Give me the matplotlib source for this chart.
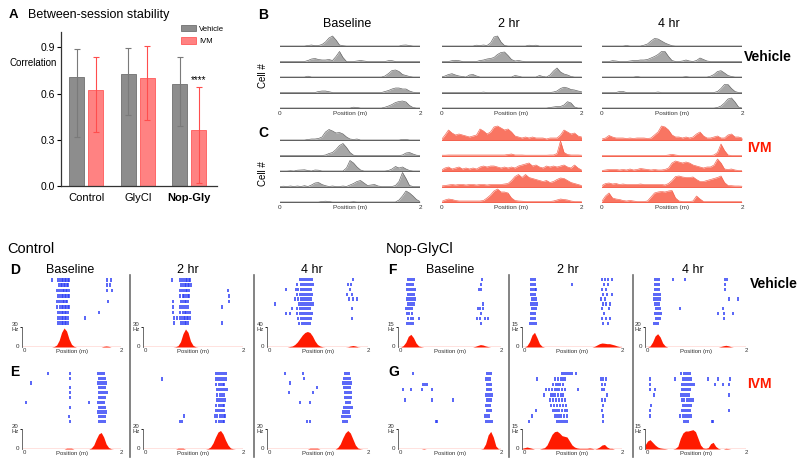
import numpy as np
import matplotlib
matplotlib.use('Agg')
import matplotlib.pyplot as plt
from matplotlib.lines import Line2D

plt.rcParams['font.family'] = ['Liberation Sans', 'DejaVu Sans']

W, H = 800, 466

# %% panel A: between-session correlation (bar = median, whiskers = range)
groups = ['Control', 'GlyCl', 'Nop-Gly']
corr_vehicle = [0.705, 0.725, 0.665]
corr_vehicle_lo = [0.32, 0.46, 0.39]
corr_vehicle_hi = [0.89, 0.895, 0.835]
corr_ivm = [0.625, 0.70, 0.365]
corr_ivm_lo = [0.35, 0.43, 0.02]
corr_ivm_hi = [0.84, 0.91, 0.645]

# position bins along the track (m), 0.05 m steps
positions = np.linspace(0, 2, 41)

# %% panel B: vehicle, 5 cells (height in px above each baseline)
b_base = [
    [0, 0, 0, 0, 0, 0, 0, 0, 0.5, 1, 0.3, 0.5, 1.5, 4, 8, 10, 6, 1, 0.3, 0, 0, 0, 0, 0, 0, 0, 0, 0, 0, 0, 0, 0, 0, 0, 0, 0.8, 1, 0.5, 0, 0, 0],
    [0, 0, 0, 0, 0, 0, 0, 0, 1, 2.5, 3, 2, 1.5, 1.5, 2, 1, 5, 10, 4, 0, 0, 0, 0.5, 1, 0.5, 0, 0, 0, 0, 0, 0, 0.8, 0.8, 0, 0, 0, 0, 0, 0, 0, 0],
    [0, 0, 0, 0, 0, 0, 0, 0, 0.8, 0, 0, 0, 0, 0, 0, 0, 0, 0, 0, 0, 0, 0, 0, 0, 0, 0, 0, 0, 0, 0, 1, 3.5, 6.5, 7, 5.5, 2.5, 1.5, 0.5, 0, 0, 0],
    [0, 0, 0, 0, 0, 0, 0, 0, 0, 0, 0, 1, 1.5, 1.5, 0.8, 0, 0, 0, 0, 0, 0, 0, 0, 0, 0, 0, 0, 0, 0, 0, 1, 2, 3.5, 4.5, 4.5, 3.5, 3.5, 1.5, 0.3, 0, 0],
    [0, 0, 0, 0, 0, 0, 0, 0, 0, 0, 0, 0, 0, 0, 0, 0, 0, 0, 0, 0, 0, 0.8, 0.5, 0, 0, 0, 0, 0, 0, 0, 0.8, 2, 3.5, 5.5, 6.5, 7, 6, 2.5, 0.5, 0, 0],
]
b_2hr = [
    [0, 0, 0, 0, 0, 0, 0, 0, 0, 0, 0.8, 0.5, 1, 0.5, 3, 9, 10, 4, 0.5, 0, 0, 0, 0, 0, 0, 0.8, 0.5, 0.8, 0, 0, 0, 0, 0, 0, 0, 0, 0, 0, 0, 0, 0],
    [0, 0, 0, 0.8, 1.2, 0.8, 0, 0, 0, 0, 0, 1, 1.5, 2.5, 3, 4, 7, 9, 9.5, 6, 2, 0.5, 1, 0.3, 0, 0, 0, 0, 0, 0, 0, 0, 0, 0, 0, 0, 0, 0, 0, 0, 0],
    [0, 1, 2.5, 3.3, 2, 1, 0.5, 0, 2, 2.5, 1, 0, 0, 0, 0, 0, 0, 0, 0, 0, 0, 1.5, 0.8, 0, 0, 0, 0, 0, 1.5, 0.5, 0, 2, 6, 9, 5, 3, 2, 0.5, 0, 0, 0],
    [0, 0, 0, 0, 0, 0, 0, 0, 0, 0, 0, 0, 0.4, 0, 0, 0, 0, 0, 0, 0, 0, 0, 0, 0, 0, 0, 0, 0, 0, 0, 0, 0, 0.5, 1.5, 4, 5.3, 4.5, 3, 2.5, 1.5, 0.8],
    [0, 0, 0, 0, 0, 0, 0, 0, 0, 0, 0, 0, 0, 0, 0, 0, 0, 0, 0, 0, 0, 0, 0, 0, 0, 0, 0, 0, 0, 0, 0, 0.5, 1, 1.5, 1.5, 3, 6.3, 5, 1, 0, 0],
]
b_4hr = [
    [0, 0, 0, 0, 0, 0, 0, 0.5, 0, 0, 0, 0, 0.8, 2, 5, 7.5, 7, 5, 3, 1.5, 0.3, 0, 0, 0, 0, 0, 0, 0, 0, 0, 0, 0, 0, 0, 0, 0, 0, 0, 0, 0, 0],
    [0, 0, 0, 0.8, 0.5, 0, 0, 0, 0.5, 1, 1, 1.5, 1.5, 2, 3.5, 5, 7, 10, 10, 5, 1, 0, 0, 0.5, 1.5, 0.5, 0, 1, 3.5, 2, 0.5, 0, 0, 0, 0, 0, 0, 0, 0, 0, 0],
    [0, 0, 0, 0, 0, 0, 0, 0, 0, 0, 0.5, 0, 0, 0, 0, 0, 0, 0, 0, 0, 0, 0, 0, 0, 0.4, 0, 0, 0, 0, 0, 0, 0.8, 2.5, 5.5, 6.3, 4, 1.5, 0.5, 0, 0, 0],
    [0, 0, 0, 0, 0, 1, 1, 0, 0, 0, 0, 0, 0, 0, 0, 0, 0.5, 0, 0, 0, 0, 0, 0, 0, 0, 0, 0, 0, 0, 0, 0, 0, 0, 1, 4, 8, 8, 4, 1, 0, 0],
    [0, 0, 0, 0, 0, 0, 0, 0, 0, 0, 0, 0, 0, 0, 0, 0, 0, 0, 0, 0, 0, 0, 0, 0, 0, 0, 0, 0, 0, 0, 0, 0, 0, 0.5, 2, 5, 9, 10, 6, 1, 0],
]

# %% panel C: IVM, 5 cells
c_base = [
    [0, 0, 0, 0, 0, 0, 0, 0, 0.5, 1, 1, 1.5, 3, 8, 10.5, 9, 7, 7.5, 6, 3, 1, 0.5, 1, 0, 0, 0, 0, 0, 0, 0, 0, 0, 0, 0, 0, 0.6, 0.6, 0, 0, 0, 0],
    [0, 0, 0, 0, 0, 0, 0, 0, 0, 0, 0, 0, 0, 0.5, 2, 3, 6, 10, 12, 8, 3, 0.3, 0, 0, 0, 0, 0, 0, 0, 0, 0, 0, 0, 0, 0, 0.5, 2.5, 3, 1.5, 0.3, 0],
    [0, 0, 0, 0.3, 0, 0.8, 1, 1.2, 0.5, 0, 1, 0.8, 0, 0, 0, 0, 0, 0, 0, 3, 10.5, 8, 4, 1, 0, 0, 0, 0, 0, 0, 0, 0.5, 2, 4.5, 3, 4, 2, 0.5, 0, 0, 0],
    [0, 0.3, 0, 0.5, 0, 0.5, 0, 0.8, 0, 1.5, 3.5, 4, 2, 0.8, 0, 0.5, 0, 0, 0.5, 0, 1.5, 3, 5, 6, 3.5, 1, 1.5, 2, 0.5, 0, 0, 0, 0, 1, 5, 14, 8, 1, 0, 0, 0],
    [0, 0, 0, 0, 0, 0, 0, 0, 0, 0, 0, 0, 0.5, 0.8, 0.5, 0, 0, 0, 0, 0, 0, 0.3, 0, 0, 0, 0, 0, 0, 0, 0, 0, 0, 0, 0, 2, 6, 11, 9, 6, 2.5, 0.5],
]
c_2hr = [
    [0.5, 5, 10, 7, 5, 6, 5, 4, 3, 4, 5, 11, 9, 6, 8, 13, 14, 12, 10, 11, 8, 4, 3, 2, 3, 2, 3, 2, 2, 2, 1, 2, 2, 2, 5, 10, 8, 6, 7, 4, 3],
    [0.3, 0.3, 0.5, 0.5, 0.5, 0.5, 0.5, 0.5, 0.5, 0.5, 0.5, 0.5, 0.5, 0.5, 0.5, 0.5, 0.5, 0.5, 0.5, 1, 1.5, 0.5, 0.5, 0.5, 0.3, 0.3, 0.3, 0.3, 0.3, 0.3, 0.3, 0.5, 0.5, 2, 14.5, 3, 1, 0.5, 0.5, 0.5, 0.3],
    [1, 3, 4, 2, 3, 4, 2, 3, 2, 3, 2, 4, 5, 4, 5, 5, 4, 3, 4, 3, 4, 3, 5, 6, 7, 8, 5, 6, 4, 3, 5, 4, 5, 4, 5, 6, 4, 3, 6, 3, 1],
    [0.5, 1, 1.5, 2, 1.5, 2, 2, 1.5, 2, 2, 1.5, 2, 2, 1.5, 2, 2, 2, 2, 2.5, 3, 6, 10, 12, 9, 12, 9, 8, 7, 6, 5, 6, 4, 5, 7, 8.5, 8, 6, 4, 3, 2, 1],
    [0.5, 2, 3, 2.5, 1.5, 1, 1, 1, 1, 1, 1, 1, 1.5, 4, 7, 11, 13, 10, 10, 9, 4, 1.5, 1, 0.8, 0.5, 0.5, 0.5, 0.5, 0.5, 0.5, 0.5, 0.5, 1, 2, 3, 2.5, 2, 1, 0.5, 0.3, 0.3],
]
c_4hr = [
    [1, 2, 4.5, 3, 2, 2, 2, 1.5, 2, 1.5, 2, 2, 2, 1.5, 2, 5, 8, 14, 13, 10, 5, 3, 3, 2, 3, 2, 3, 6, 8, 4, 2, 2, 3, 4, 2, 2, 5, 6, 3, 3, 2],
    [0, 0, 0, 0, 0, 0, 0, 0, 0, 0, 0, 0, 0, 0, 0, 0, 0, 0, 0, 0.5, 1.2, 0.5, 0, 0, 0, 0, 0, 0, 0, 0, 0, 0, 0.5, 3, 11.5, 5, 0.5, 0, 0, 0, 0],
    [0.5, 1, 1.5, 1.5, 1.5, 1, 1.5, 1, 2, 1, 1.5, 2.5, 2, 1.5, 1, 1.5, 1, 1, 1.5, 3, 8, 10, 9, 8, 9, 8, 6, 5, 4, 3, 4, 4, 6, 12, 8, 2, 1.5, 2, 1, 0.5, 0.3],
    [1, 3, 3.5, 2.5, 3, 2, 2.5, 2, 2, 2, 2, 2.5, 2, 2, 2, 2, 2, 2, 1.5, 3, 6, 10, 10.5, 9.5, 9, 9, 9.5, 7, 5, 5, 6, 7, 8, 9, 10.5, 4, 1, 0.8, 0.5, 0.5, 0.3],
    [1, 6, 9, 4, 3, 2.5, 1.5, 1, 1.5, 1, 0.5, 0.5, 0.5, 1, 5, 9, 10, 10.5, 10, 11, 11.5, 4, 1, 0.5, 0.5, 0.5, 1, 6, 3, 0.5, 0.5, 0.5, 0.5, 0.5, 0.5, 0.5, 0.5, 0.5, 0.5, 0.3, 0.3],
]

# %% panels D-G: firing rate maps (Hz) and y-axis top value
rate_ctrl_veh = [
    [0, 0, 0, 0, 0, 0, 0, 0, 0, 0, 0, 0, 0, 0.8, 3, 10, 22, 28.5, 24, 12, 4, 1, 0, 0, 0, 0, 0, 0, 0, 0, 0, 0, 0, 1, 1.5, 1, 0, 0, 0, 0, 0],
    [0, 0, 0, 0, 0, 0, 0, 0, 0, 0, 0, 0, 0, 0.5, 2, 8, 20, 27, 22, 9, 2.5, 0.5, 0, 0, 0, 0, 0, 0, 0, 0, 0, 0, 0, 0, 0, 0, 0, 0, 0, 0, 0],
    [0, 0, 0, 0, 0, 0, 0, 0, 0, 1, 2, 5, 10, 17, 24, 29, 31, 29, 22, 12, 5, 2, 0.5, 0, 0, 0, 0, 0, 0, 0, 0, 0, 0.5, 2, 3, 2, 0.5, 0, 0, 0, 0],
]
rate_ctrl_ivm = [
    [0, 0, 0, 0, 0, 0, 0, 0, 0, 0, 0, 0, 0, 0, 0, 0, 0, 0, 0.8, 0.8, 0.8, 0, 0, 0, 0, 0, 0, 0, 1, 4, 10, 15, 16.5, 12, 5, 1.5, 0.3, 0, 0, 0, 0],
    [0, 0, 0, 0, 0, 0, 0, 0, 0, 0, 0, 0, 0, 0, 0.8, 0.8, 0.8, 0, 0, 0, 0, 0, 0, 0, 0, 0, 0.5, 2, 6, 12, 17, 18.5, 15, 9, 4, 1, 0.3, 0, 0, 0, 0],
    [0, 0, 0, 0, 0, 0, 0, 0, 0, 0, 0, 0, 0, 0, 0, 0, 0, 0.8, 0.8, 0.8, 0.8, 0, 0, 0, 0, 0, 0, 0, 1.5, 5, 11, 16, 18.5, 16, 10, 4, 1, 0.3, 0, 0, 0],
]
rate_nop_veh = [
    [0, 0, 1, 3.5, 8, 9.5, 7, 3, 0.8, 0.3, 0, 0, 0, 0, 0, 0, 0, 0, 0, 0, 0, 0, 0, 0, 0, 0, 0, 0, 0, 0, 0.5, 1.2, 1.8, 1.5, 0.8, 0.3, 0, 0, 0, 0, 0],
    [0, 0, 1, 4, 9, 11, 7, 2.5, 0.5, 0, 0, 0, 0, 0, 0, 0, 0, 0, 0, 0, 0, 0, 0, 0, 0, 0, 0, 0, 0, 0.5, 1.5, 2.5, 3, 2.8, 2.5, 2.5, 2, 1.5, 0.8, 0.3, 0],
    [0, 0, 1, 5, 11, 13.3, 10, 4, 1, 0, 0, 0, 0, 0, 0, 0, 0, 0, 0, 0, 0, 0, 0, 0, 0, 0, 0, 0, 0, 0, 0.5, 1.2, 1.7, 1.2, 0.4, 0, 0, 0, 0, 0, 0],
]
rate_nop_ivm = [
    [0, 0, 0, 0, 0, 0, 0, 0, 0, 0, 0.5, 0, 0, 0, 0, 0, 0, 0, 0, 0, 0, 0, 0, 0, 0, 0, 0, 0, 0, 0, 0, 0, 0, 0.5, 5, 14, 17.6, 12, 3, 0.3, 0],
    [0.5, 1, 1.5, 1, 0.5, 0, 0, 0, 0.5, 1, 3, 7, 11, 13, 13.4, 12, 10, 9.5, 9, 6, 3, 1.5, 0.8, 0.5, 0.5, 0.5, 0.5, 0.8, 0.5, 0, 0.5, 1.5, 3, 3.4, 1.5, 0.5, 0.5, 0, 0, 0, 0],
    [3, 6, 7, 5, 3, 1.5, 0.8, 0.5, 0.3, 0, 0, 0, 0.5, 2, 8, 12, 13.5, 13.5, 14, 14.5, 13, 8, 3, 0.8, 0.5, 1, 4, 5, 2, 0.5, 0, 0, 0.5, 0.3, 0, 0, 0, 0, 0, 0, 0],
]
hz_ctrl_veh = [30, 30, 40]
hz_ctrl_ivm = [20, 20, 20]
hz_nop_veh = [15, 15, 20]
hz_nop_ivm = [20, 15, 15]

# %% spike positions (m) per lap
spikes_ctrl_veh = [
    [[0.61, 0.73, 0.77, 0.8, 0.83, 0.86, 0.89, 0.92, 0.95, 1.71, 1.8],
     [0.74, 0.78, 0.81, 0.84, 0.87, 0.9, 0.93, 1.71, 1.78],
     [0.71, 0.75, 0.79, 0.82, 0.85, 0.88, 0.91, 0.94, 1.72, 1.81],
     [0.72, 0.76, 0.8, 0.83, 0.86, 0.89, 0.92, 0.95],
     [0.7, 0.75, 0.79, 0.82, 0.85, 0.88, 0.91, 1.74],
     [0.71, 0.76, 0.8, 0.83, 0.86, 0.89, 0.92, 0.95],
     [0.72, 0.77, 0.8, 0.83, 0.86, 0.89, 0.92, 1.55],
     [0.72, 0.76, 0.8, 0.83, 0.86, 0.89, 0.92, 1.28],
     [0.73, 0.77, 0.8, 0.83, 0.86, 0.89, 0.92]],
    [[0.57, 0.74, 0.78, 0.82, 0.85, 0.88, 0.91, 0.94],
     [0.76, 0.8, 0.83, 0.86, 0.89, 0.92, 0.95],
     [0.73, 0.78, 0.82, 0.85, 0.88, 0.91, 1.71],
     [0.74, 0.79, 0.82, 0.86, 0.89, 0.92, 1.73],
     [0.6, 0.75, 0.8, 0.83, 0.86, 0.89, 1.72],
     [0.6, 0.74, 0.78, 0.82, 0.86, 0.9, 1.57],
     [0.6, 0.74, 0.79, 0.83, 0.86, 0.89, 0.93],
     [0.62, 0.67, 0.73, 0.77, 0.81, 0.84, 0.87, 0.9, 0.94],
     [0.62, 0.75, 0.79, 0.83, 0.86, 0.89, 1.57]],
    [[0.65, 0.7, 0.74, 0.78, 0.82, 0.86, 0.9, 1.7],
     [0.6, 0.68, 0.72, 0.76, 0.8, 0.84, 0.88, 0.92, 1.6, 1.66],
     [0.38, 0.58, 0.62, 0.68, 0.72, 0.76, 0.8, 0.84, 0.88, 1.64],
     [0.6, 0.65, 0.7, 0.74, 0.78, 0.82, 0.86, 0.9, 1.58, 1.68],
     [0.55, 0.62, 0.68, 0.72, 0.76, 0.8, 0.84, 0.88, 1.62, 1.7, 1.78],
     [0.16, 0.64, 0.68, 0.72, 0.76, 0.8, 0.84, 0.88, 0.92],
     [0.5, 0.6, 0.66, 0.7, 0.74, 0.78, 0.82, 0.86, 1.68],
     [0.38, 0.45, 0.6, 0.66, 0.7, 0.74, 0.78, 0.82, 0.86, 0.9],
     [0.62, 0.68, 0.72, 0.76, 0.8, 0.84, 0.88, 1.68],
     [0.64, 0.7, 0.74, 0.78, 0.82, 0.86]],
]
spikes_ctrl_ivm = [
    [[0.53, 0.96, 1.54, 1.58, 1.62, 1.66],
     [0.96, 1.55, 1.59, 1.63, 1.67],
     [0.18, 1.54, 1.58, 1.62, 1.66, 1.7],
     [0.96, 1.55, 1.59, 1.63, 1.67],
     [0.97, 1.56, 1.6, 1.64, 1.68, 1.72],
     [0.96, 1.55, 1.59, 1.63, 1.67],
     [0.08, 1.36, 1.54, 1.58, 1.62, 1.66],
     [0.97, 1.55, 1.59, 1.63, 1.67],
     [1.54, 1.58, 1.62, 1.66, 1.7],
     [0.95, 1.55, 1.59, 1.63, 1.67],
     [0.97, 1.55, 1.59, 1.63, 1.67]],
    [[1.46, 1.5, 1.54, 1.58, 1.62, 1.66],
     [0.38, 1.46, 1.5, 1.54, 1.58, 1.62, 1.66],
     [1.47, 1.51, 1.55, 1.59, 1.63],
     [1.48, 1.52, 1.56, 1.6, 1.64, 1.68],
     [1.49, 1.53, 1.57, 1.61],
     [1.48, 1.52, 1.56, 1.6, 1.64],
     [1.47, 1.51, 1.55, 1.59, 1.63],
     [1.46, 1.5, 1.54, 1.58, 1.62],
     [0.82, 1.45, 1.49, 1.53, 1.57, 1.61, 1.65],
     [0.74, 0.78, 1.47, 1.51, 1.55, 1.59, 1.63]],
    [[0.36, 0.72, 1.54, 1.58, 1.62],
     [0.74, 1.52, 1.56, 1.6, 1.64],
     [0.46, 1.5, 1.54, 1.58, 1.62, 1.66],
     [0.99, 1.52, 1.56, 1.6, 1.64],
     [0.43, 0.92, 1.54, 1.58, 1.62, 1.66],
     [1.55, 1.59, 1.63, 1.67],
     [0.65, 0.86, 1.56, 1.6, 1.64],
     [1.52, 1.56, 1.6, 1.64, 1.68],
     [1.5, 1.54, 1.58, 1.62],
     [1.48, 1.52, 1.56, 1.6, 1.64],
     [0.8, 0.86, 1.5, 1.54, 1.58]],
]
spikes_nop_veh = [
    [[0.2, 0.24, 0.28, 0.31, 1.64],
     [0.18, 0.22, 0.26, 0.3, 1.62],
     [0.18, 0.22, 0.26, 0.3, 0.33, 1.58, 1.62],
     [0.2, 0.24, 0.28, 0.32],
     [0.17, 0.21, 0.25, 0.29, 0.33],
     [0.19, 0.23, 0.27, 0.31, 1.66],
     [0.16, 0.2, 0.24, 0.28, 1.55, 1.6, 1.66],
     [0.18, 0.22, 0.27, 1.62],
     [0.2, 0.25, 0.29, 0.4, 1.54, 1.6, 1.68, 1.74],
     [0.17, 0.21, 0.25, 0.3, 1.62]],
    [[0.17, 0.21, 0.25, 1.6, 1.66, 1.72, 1.8],
     [0.18, 0.22, 0.26, 1.0, 1.64, 1.72],
     [0.17, 0.21, 0.25, 0.28, 1.6, 1.68],
     [0.18, 0.22, 0.26, 1.62, 1.7, 1.8],
     [0.19, 0.23, 0.27, 1.58, 1.66],
     [0.18, 0.22, 0.26, 0.3, 1.62, 1.68, 1.76],
     [0.2, 0.24, 0.28, 1.6, 1.74],
     [0.18, 0.22, 0.26, 1.64],
     [0.17, 0.21, 0.25, 1.6, 1.68, 1.76],
     [0.16, 0.2, 0.24, 0.28, 1.62, 1.72]],
    [[0.2, 0.24, 0.27, 0.56, 0.79, 1.58, 1.62],
     [0.2, 0.23, 0.27, 1.58],
     [0.19, 0.23, 0.27, 1.59],
     [0.18, 0.22, 0.26, 0.29],
     [0.18, 0.22, 0.26, 0.3, 1.67, 1.85],
     [0.2, 0.24, 0.28],
     [0.21, 0.25, 0.29, 0.69, 1.55],
     [0.2, 0.24, 0.28, 0.31, 1.45, 1.57, 1.74],
     [0.21, 0.25, 0.29, 1.57],
     [0.18, 0.22, 0.26]],
]
spikes_nop_ivm = [
    [[0.29, 1.72, 1.76, 1.8],
     [1.71, 1.75, 1.79],
     [0.49, 0.52, 0.56, 1.72, 1.76, 1.8],
     [0.1, 0.26, 0.47, 0.66, 1.73, 1.77, 1.81],
     [1.7, 1.74, 1.78, 1.82],
     [0.13, 0.66, 1.07, 1.72, 1.76, 1.8],
     [1.71, 1.75, 1.79],
     [1.72, 1.76, 1.8],
     [1.68, 1.72, 1.76],
     [0.73, 0.76, 1.7, 1.74, 1.78, 1.82]],
    [[0.8, 0.84, 0.88, 0.92, 0.96, 1.0, 1.08],
     [0.3, 0.66, 0.72, 0.78, 0.82, 0.86, 1.58, 1.62, 1.68],
     [0.62, 0.68, 0.72, 0.76, 0.82, 1.6, 1.66],
     [0.48, 0.54, 0.6, 0.66, 0.7, 0.74, 0.8, 0.86, 1.12, 1.6, 1.64],
     [0.44, 0.58, 0.62, 0.66, 0.72, 0.78, 0.82, 1.7],
     [0.56, 0.62, 0.68, 0.74, 0.8, 0.86, 1.6, 1.66],
     [0.58, 0.64, 0.7, 0.76, 0.82, 0.88, 1.62],
     [0.28, 0.62, 0.66, 0.7, 0.74, 0.8, 0.86, 0.9, 1.6],
     [0.2, 0.66, 0.7, 0.74, 0.78, 0.84, 0.9, 1.62],
     [0.14, 0.7, 0.74, 0.78, 0.82, 0.86, 0.9, 1.62]],
    [[0.72, 0.78, 0.82, 0.86, 0.9],
     [0.1, 0.6, 0.75, 0.79, 0.83, 0.87, 0.91, 1.25, 1.44, 1.68],
     [0.1, 0.73, 0.77, 0.81, 0.85, 0.89, 0.93, 0.97, 1.38, 1.55, 1.66],
     [0.1, 0.2, 0.74, 0.78, 0.82, 0.86, 0.9],
     [0.17, 0.71, 0.75, 0.79, 0.83, 0.87, 1.66],
     [0.74, 0.78, 0.84, 0.88, 0.92, 0.96],
     [0.12, 0.76, 0.8, 0.84, 0.88, 0.92],
     [0.1, 0.74, 0.78, 0.82, 0.86, 0.9, 1.66],
     [0.1, 0.7, 0.76, 0.8, 0.84, 0.88, 0.92],
     [0.78, 0.82, 0.86, 1.32, 1.35]],
]

GRAY_FILL, GRAY_EDGE = '#a6a6a6', '#5e5e5e'
RED_FILL, RED_EDGE = '#f97562', '#f4604c'
RATE_RED = '#ff1a00'
SPIKE_BLUE = '#2b3cf5'

fig = plt.figure(figsize=(8, 4.66), dpi=100)


def add_ax(x0, y0, x1, y1):
    # pixel box (top-left origin) -> figure axes
    return fig.add_axes([x0 / W, 1 - y1 / H, (x1 - x0) / W, (y1 - y0) / H])


def ftext(x, y, s, **kw):
    fig.text(x / W, 1 - y / H, s, **kw)


# %% panel A
ax = add_ax(61, 32, 217, 186)
xg = np.arange(len(groups))
ax.bar(xg - 0.185, corr_vehicle, 0.29, color='#8d8d8d', edgecolor='#707070',
       lw=0.6, label='Vehicle')
ax.bar(xg + 0.185, corr_ivm, 0.29, color='#ff8282', edgecolor='#ff5a5a',
       lw=0.6, label='IVM')
ax.errorbar(xg - 0.185, corr_vehicle,
            yerr=[np.subtract(corr_vehicle, corr_vehicle_lo),
                  np.subtract(corr_vehicle_hi, corr_vehicle)],
            fmt='none', ecolor='#7a7a7a', elinewidth=0.8, capsize=2.5,
            capthick=0.8)
ax.errorbar(xg + 0.185, corr_ivm,
            yerr=[np.subtract(corr_ivm, corr_ivm_lo),
                  np.subtract(corr_ivm_hi, corr_ivm)],
            fmt='none', ecolor='#ff4d4d', elinewidth=0.8, capsize=2.5,
            capthick=0.8)
ax.text(2.185, 0.655, '****', ha='center', va='bottom', fontsize=7)
ax.set_xlim(-0.49, 2.54)
ax.set_ylim(0, 1.0)
ax.set_yticks([0, 0.3, 0.6, 0.9])
ax.set_yticklabels(['0.0', '0.3', '0.6', '0.9'])
ax.set_xticks(xg)
ax.set_xticklabels(groups)
ax.get_xticklabels()[2].set_fontweight('bold')
ax.tick_params(axis='y', length=3, width=0.8, labelsize=7.5, pad=1.5)
ax.tick_params(axis='x', length=0, labelsize=8, pad=5)
for s in ['top', 'right']:
    ax.spines[s].set_visible(False)
for s in ['left', 'bottom']:
    ax.spines[s].set_linewidth(0.9)
    ax.spines[s].set_color('#333333')
ax.legend(loc='upper left', bbox_to_anchor=(177 / W, 1 - 21 / H),
          bbox_transform=fig.transFigure, frameon=False, fontsize=5.6,
          handlelength=2.0, handleheight=0.9, borderpad=0, labelspacing=0.55,
          handletextpad=0.3)
ftext(9, 63, 'Correlation', fontsize=7, va='center')
ftext(9, 15, 'A', fontsize=9.5, weight='bold', va='center')
ftext(28, 15, 'Between-session stability', fontsize=9, va='center')

# %% panels B and C
col_x0 = [280, 441.5, 602]
col_w = 140
row_gap = 15.5


def draw_traces(x0, last_base, rows, fill, edge):
    top = (len(rows) - 1) * row_gap + 17
    a = add_ax(x0, last_base - top, x0 + col_w, last_base + 3)
    for k, vals in enumerate(rows):
        base = (len(rows) - 1 - k) * row_gap
        y = base + np.array(vals)
        a.fill_between(positions, base, y, color=fill, lw=0)
        a.plot(positions, y, color=edge, lw=0.45)
        a.axhline(base, color=edge, lw=0.7)
    a.set_xlim(0, 2)
    a.set_ylim(-3, top)
    a.axis('off')
    for xv, s in [(0, '0'), (1, 'Position (m)'), (2, '2')]:
        a.text(xv, -5.5, s, ha='center', va='center', fontsize=4.6,
               color='#333333', clip_on=False)


b_sets = [b_base, b_2hr, b_4hr]
c_sets = [c_base, c_2hr, c_4hr]
for i in range(3):
    draw_traces(col_x0[i], 108, b_sets[i], GRAY_FILL, GRAY_EDGE)
    if i == 0:
        draw_traces(col_x0[i], 202, c_sets[i], GRAY_FILL, GRAY_EDGE)
    else:
        draw_traces(col_x0[i], 202, c_sets[i], RED_FILL, RED_EDGE)

for i, s in enumerate(['Baseline', '2 hr', '4 hr']):
    ftext(col_x0[i] + col_w / 2 - 3, 24, s, fontsize=9, ha='center',
          va='center')
ftext(263, 15, 'B', fontsize=10, weight='bold', ha='center', va='center')
ftext(263, 133, 'C', fontsize=10, weight='bold', ha='center', va='center')
ftext(263, 76, 'Cell #', fontsize=7, rotation=90, ha='center', va='center')
ftext(263, 174, 'Cell #', fontsize=7, rotation=90, ha='center', va='center')
ftext(744, 57, 'Vehicle', fontsize=10, weight='bold', va='center')
ftext(747, 148, 'IVM', fontsize=10, weight='bold', color='#ff1a00',
      va='center')

# %% panels D-G
ctrl_cols = [(22, 121), (143, 243), (267, 368)]
nop_cols = [(398, 501), (522, 622), (645, 746)]
raster_box = [(277, 326), (371, 424)]
rate_base = [347, 449]


def draw_cell(x0, x1, row, laps, rate, hz_top):
    r = add_ax(x0, raster_box[row][0], x1, raster_box[row][1])
    n = len(laps)
    r.eventplot(laps, lineoffsets=list(range(n)), linelengths=0.66,
                linewidths=1.1, colors=SPIKE_BLUE)
    r.set_xlim(0, 2)
    r.set_ylim(n - 0.5, -0.5)
    r.axis('off')

    b = rate_base[row]
    a = add_ax(x0, b - 20, x1, b)
    a.fill_between(positions, 0, rate, color=RATE_RED, lw=0, clip_on=False)
    a.axhline(0, color=RATE_RED, lw=0.9)
    a.set_xlim(0, 2)
    a.set_ylim(0, hz_top)
    for s in ['top', 'right', 'bottom']:
        a.spines[s].set_visible(False)
    a.spines['left'].set_linewidth(0.6)
    a.spines['left'].set_color('#555555')
    a.set_xticks([])
    a.set_yticks([hz_top])
    a.tick_params(axis='y', length=1.5, width=0.6, labelleft=False)
    a.text(-0.035, 1.0, f'{hz_top}\nHz', transform=a.transAxes, ha='right',
           va='center', fontsize=4.3, linespacing=0.9, color='#333333')
    a.text(-0.03, 0.0, '0', transform=a.transAxes, ha='right', va='center',
           fontsize=4.5, color='#333333')
    for xv, s in [(0.02, '0'), (0.5, 'Position (m)'), (1.0, '2')]:
        a.text(xv, -0.2, s, transform=a.transAxes, ha='center', va='center',
               fontsize=4.3, color='#333333')


for i in range(3):
    draw_cell(*ctrl_cols[i], 0, spikes_ctrl_veh[i], rate_ctrl_veh[i],
              hz_ctrl_veh[i])
    draw_cell(*ctrl_cols[i], 1, spikes_ctrl_ivm[i], rate_ctrl_ivm[i],
              hz_ctrl_ivm[i])
    draw_cell(*nop_cols[i], 0, spikes_nop_veh[i], rate_nop_veh[i],
              hz_nop_veh[i])
    draw_cell(*nop_cols[i], 1, spikes_nop_ivm[i], rate_nop_ivm[i],
              hz_nop_ivm[i])

# column separators
for xs in [130, 254, 509, 633]:
    fig.add_artist(Line2D([xs / W, xs / W], [1 - 275 / H, 1 - 457 / H],
                          transform=fig.transFigure, color='#6e6e6e',
                          lw=1.2))

ftext(7, 249, 'Control', fontsize=10.5, va='center')
ftext(386, 249, 'Nop-GlyCl', fontsize=10.5, va='center')
for s, x, y in [('D', 10, 270), ('E', 10, 372), ('F', 388, 270),
                ('G', 388, 372)]:
    ftext(x, y, s, fontsize=10, weight='bold', va='center')
for s, x in zip(['Baseline', '2 hr', '4 hr'], [70, 188, 312]):
    ftext(x, 270, s, fontsize=9, ha='center', va='center')
for s, x in zip(['Baseline', '2 hr', '4 hr'], [450, 568, 693]):
    ftext(x, 270, s, fontsize=9, ha='center', va='center')
ftext(750, 284, 'Vehicle', fontsize=10, weight='bold', va='center')
ftext(747, 384, 'IVM', fontsize=10, weight='bold', color='#ff1a00',
      va='center')

fig.savefig('out.png', dpi=100)
